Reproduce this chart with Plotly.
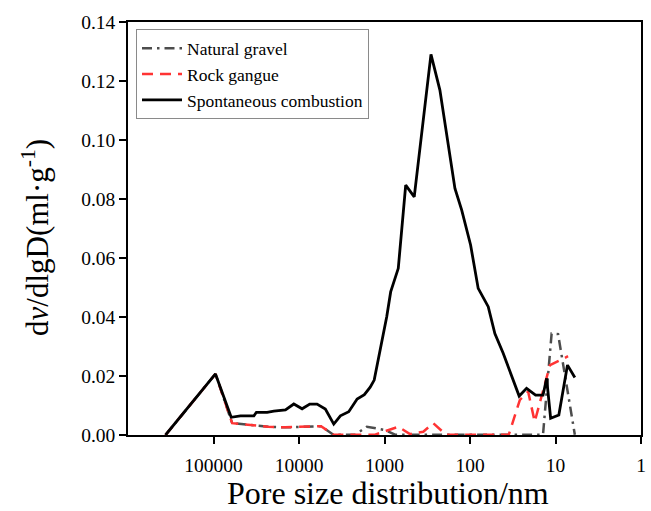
import plotly.graph_objects as go

# Pore size (nm) and dV/dlgD values
sc_size = [364000, 94800, 62100, 48400, 33700, 31500, 23600, 19700, 14400, 11500,
           9200, 7480, 6150, 4920, 3920, 3280, 2620, 2090, 1720, 1470,
           1320, 1220, 942, 847, 690, 565, 449, 286, 225, 150,
           125, 98.4, 80.2, 61.2, 51.2, 40.9, 26.6, 21.8, 17.1, 14.0,
           12.7, 11.4, 9.14, 7.24, 5.94]
sc_val = [0, 0.0207, 0.0060, 0.0065, 0.0065, 0.0077, 0.0077, 0.0081, 0.0085, 0.0105,
          0.0089, 0.0105, 0.0105, 0.0088, 0.0037, 0.0065, 0.0079, 0.0122, 0.0137, 0.0162,
          0.0186, 0.0237, 0.0401, 0.0485, 0.0565, 0.0847, 0.0807, 0.1290, 0.1169, 0.0836,
          0.0762, 0.0644, 0.0497, 0.0435, 0.0344, 0.0277, 0.0132, 0.0158, 0.0135, 0.0135,
          0.0192, 0.0057, 0.0068, 0.0237, 0.0195]

ng_size = [364000, 94800, 60500, 37200, 23000, 14500, 9700, 5520, 3960, 2210,
           1610, 986, 753, 14.0, 11.1, 9.33, 5.94]
ng_val = [0, 0.0207, 0.0040, 0.0034, 0.0028, 0.0026, 0.0027, 0.0030, 0.0001, 0.0001,
          0.0028, 0.0017, 0.0001, 0.0001, 0.0344, 0.0342, 0.0001]

rg_size = [364000, 94800, 60500, 37200, 23000, 14500, 9700, 5520, 3960, 1290,
           690, 504, 352, 269, 191, 35.2, 26.1, 20.9, 17.5, 11.6, 7.13]
rg_val = [0, 0.0207, 0.0040, 0.0034, 0.0028, 0.0026, 0.0027, 0.0030, 0.0001, 0.0001,
          0.0028, 0.0003, 0.0011, 0.0040, 0.0001, 0.0001, 0.0119, 0.0147, 0.0045, 0.0237, 0.0267]

x_ticks = [100000, 10000, 1000, 100, 10, 1]
x_ticktext = ["100000", "10000", "1000", "100", "10", "1"]

x_title = "Pore size distribution/nm"
y_title = "d<i>v</i>/dlgD(ml·g<sup>-1</sup>)"

FONT = "Liberation Serif, Times New Roman, serif"

fig = go.Figure()
fig.add_trace(go.Scatter(x=ng_size, y=ng_val, mode="lines", name="Natural gravel",
                         line=dict(color="#4d4d4d", width=2.5, dash="10px,5px,2.5px,5px")))
fig.add_trace(go.Scatter(x=rg_size, y=rg_val, mode="lines", name="Rock gangue",
                         line=dict(color="#ff3333", width=2.5, dash="11px,7px")))
fig.add_trace(go.Scatter(x=sc_size, y=sc_val, mode="lines", name="Spontaneous combustion",
                         line=dict(color="#000000", width=2.8)))

fig.update_layout(
    width=651, height=511,
    margin=dict(l=128, r=10, t=22, b=76, autoexpand=False),
    paper_bgcolor="white", plot_bgcolor="white",
    font=dict(family=FONT, size=19.5, color="black"),
    showlegend=True,
    legend=dict(x=0.0156, y=0.982, xanchor="left", yanchor="top",
                bordercolor="#8a8a8a", borderwidth=1, bgcolor="white",
                font=dict(family=FONT, size=17.5, color="black"),
                itemwidth=40, tracegroupgap=0),
    xaxis=dict(type="log", range=[6, 0], tickvals=x_ticks, ticktext=x_ticktext,
               showline=True, mirror=True, linecolor="black", linewidth=1.5,
               ticks="outside", ticklen=7, tickwidth=1.5, tickcolor="black",
               ticklabelstandoff=5, automargin=False,
               showgrid=False, zeroline=False,
               tickfont=dict(family=FONT, size=19.5)),
    yaxis=dict(range=[0, 0.14], dtick=0.02, tickformat=".2f",
               showline=True, mirror=True, linecolor="black", linewidth=1.5,
               ticks="outside", ticklen=7, tickwidth=1.5, tickcolor="black",
               automargin=False,
               showgrid=False, zeroline=False,
               tickfont=dict(family=FONT, size=19.5)),
    annotations=[
        dict(text=y_title, textangle=-90,
             xref="paper", yref="paper", x=(35 - 128) / 513, y=(435 - 238) / 413,
             xanchor="center", yanchor="middle", showarrow=False,
             font=dict(family=FONT, size=31, color="black")),
        dict(text=x_title,
             xref="paper", yref="paper", x=(388 - 128) / 513, y=(435 - 493) / 413,
             xanchor="center", yanchor="middle", showarrow=False,
             font=dict(family=FONT, size=32, color="black")),
    ],
)

fig.write_html("out.html")
